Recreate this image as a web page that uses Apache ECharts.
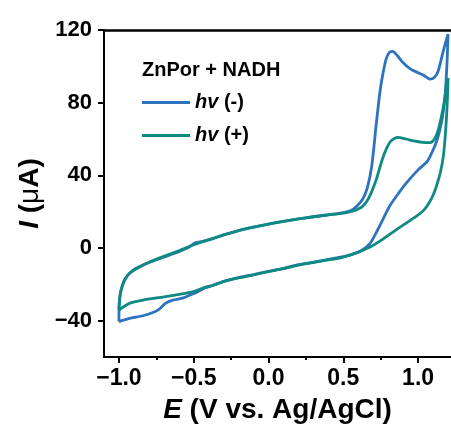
<!DOCTYPE html>
<html>
<head>
<meta charset="utf-8">
<script src="https://cdn.jsdelivr.net/npm/echarts@6/dist/echarts.min.js"></script>
<style>html,body{margin:0;padding:0;background:#fff}#c{width:451px;height:429px}</style>
</head>
<body>
<div id="c"></div>
<script>
// ---- data ----
const xTicks = [-1.0, -0.5, 0.0, 0.5, 1.0];
const xMinorTicks = [-0.75, -0.25, 0.25, 0.75];
const yTicks = [-40, 0, 40, 80, 120];
const seriesNames = ['hv (-)', 'hv (+)'];
const legendTitle = 'ZnPor + NADH';

// hv (-) : [E (V), I (uA)] — forward scan then reverse scan
const hvMinus = [
  [-1.0,-40.5],[-0.998,-31.5],[-0.985,-23],[-0.96,-17.5],[-0.93,-14],[-0.88,-11.3],[-0.8,-8],
  [-0.7,-5],[-0.6,-2],[-0.53,0.5],[-0.49,2.8],[-0.44,3.6],[-0.37,5.2],[-0.3,7.2],[-0.2,9.6],
  [-0.1,11.5],[0.0,13.2],[0.1,14.7],[0.2,16],[0.3,17.2],[0.4,18.3],[0.5,19.5],[0.55,20.6],
  [0.59,23],[0.63,27],[0.66,33],[0.69,45],[0.72,68],[0.745,86],[0.765,96],[0.788,104.5],
  [0.81,107.8],[0.83,108.2],[0.86,106],[0.9,102],[0.95,98.5],[1.0,96.5],[1.04,95],[1.08,93],
  [1.11,94],[1.135,97.6],[1.167,108],[1.2,117.7],
  [1.195,105],[1.187,92],[1.178,82],[1.165,73],[1.148,66],[1.125,59],[1.095,53],[1.06,47.5],
  [1.0,43],[0.922,35.8],[0.855,28.5],[0.81,23.1],[0.765,15.8],[0.721,8.6],[0.676,2.2],
  [0.62,-1.5],[0.55,-3.8],[0.5,-4.8],[0.4,-6.3],[0.3,-7.8],[0.2,-9.2],[0.1,-11.2],[0.0,-12.8],
  [-0.1,-14.6],[-0.2,-16.3],[-0.3,-18.3],[-0.37,-20.5],[-0.435,-22.4],[-0.5,-25.1],[-0.57,-27.5],
  [-0.64,-28.7],[-0.69,-30.5],[-0.725,-33.3],[-0.76,-35.1],[-0.84,-37.3],[-0.93,-38.7],[-1.0,-40.5]
];

// hv (+)
const hvPlus = [
  [-1.0,-34.2],[-0.999,-31],[-0.99,-24.5],[-0.96,-17],[-0.905,-12.2],[-0.815,-8.4],[-0.7,-4.6],
  [-0.6,-1.5],[-0.5,1.8],[-0.4,4.6],[-0.3,7.2],[-0.2,9.6],[-0.1,11.5],[0.0,13.2],[0.1,14.7],
  [0.2,16],[0.3,17.2],[0.4,18.2],[0.5,19.2],[0.56,20.3],[0.6,21.5],[0.63,23],[0.67,27.5],
  [0.72,37.6],[0.76,48.6],[0.79,55],[0.82,59],[0.866,60.9],[0.92,60],[0.97,59],[1.03,58.2],
  [1.08,58],[1.11,60],[1.135,65],[1.155,72],[1.17,78],[1.19,88.5],[1.2,93.6],
  [1.197,84],[1.19,72],[1.18,60],[1.168,50],[1.15,42],[1.13,36],[1.105,30],
  [1.075,25],[1.04,21],[0.989,17.6],
  [0.877,11.3],[0.765,4.9],[0.676,0.4],[0.564,-3.3],[0.475,-5.6],[0.4,-6.5],[0.3,-8],[0.2,-9.4],
  [0.1,-11.4],[0.0,-13],[-0.1,-14.8],[-0.2,-16.5],[-0.3,-18.5],[-0.37,-20.5],[-0.435,-21.9],
  [-0.5,-24],[-0.57,-25.1],[-0.7,-26.9],[-0.84,-28.7],[-0.93,-30.5],[-1.0,-34.2]
];

const colors = ['#2d73be', '#0e8a82'];
const FONT = '"Liberation Sans", Arial, sans-serif';
const minus = s => String(s).replace('-', '\u2212');

const chart = echarts.init(document.getElementById('c'), null, {renderer: 'canvas'});
const grid = {left: 104, top: 30, right: 0, bottom: 69};

chart.setOption({
  animation: false,
  backgroundColor: '#fff',
  title: {
    text: legendTitle, left: 137, top: 55,
    textStyle: {fontFamily: FONT, fontWeight: 'bold', fontSize: 20, color: '#000'}
  },
  legend: {
    orient: 'vertical', left: 137, top: 87,
    itemWidth: 48, itemHeight: 3, itemGap: 12, icon: 'rect',
    data: seriesNames,
    formatter: n => '{i|hv} ' + n.slice(3),
    textStyle: {
      fontFamily: FONT, fontWeight: 'bold', fontSize: 20, color: '#000', lineHeight: 21,
      rich: {i: {fontFamily: FONT, fontWeight: 'bold', fontStyle: 'italic', fontSize: 20, color: '#000'}}
    }
  },
  grid: grid,
  xAxis: [
    {
      type: 'value', min: -1.1, max: 1.22, position: 'bottom',
      axisLine: {show: true, onZero: false, lineStyle: {color: '#000', width: 2}},
      axisTick: {show: true, customValues: xTicks, length: 6, inside: false, lineStyle: {color: '#000', width: 2}},
      axisLabel: {show: true, customValues: xTicks, margin: 10, formatter: v => minus(v.toFixed(1)),
        fontFamily: FONT, fontWeight: 'bold', fontSize: 23, color: '#000'},
      splitLine: {show: false},
      name: '{i|E} (V vs. Ag/AgCl)', nameLocation: 'middle', nameGap: 39,
      nameTextStyle: {fontFamily: FONT, fontWeight: 'bold', fontSize: 28, color: '#000',
        rich: {i: {fontFamily: FONT, fontWeight: 'bold', fontStyle: 'italic', fontSize: 28, color: '#000'}}}
    },
    {
      type: 'value', min: -1.1, max: 1.22, position: 'bottom',
      axisLine: {show: false, onZero: false},
      axisTick: {show: true, customValues: xMinorTicks, length: 3, lineStyle: {color: '#000', width: 2}},
      axisLabel: {show: false}, splitLine: {show: false}
    },
    {
      type: 'value', min: -1.1, max: 1.22, position: 'top',
      axisLine: {show: true, onZero: false, lineStyle: {color: '#000', width: 2.5}},
      axisTick: {show: false}, axisLabel: {show: false}, splitLine: {show: false}
    }
  ],
  yAxis: {
    type: 'value', min: -60, max: 120, position: 'left',
    axisLine: {show: true, onZero: false, lineStyle: {color: '#000', width: 2}},
    axisTick: {show: true, customValues: yTicks, length: 6, lineStyle: {color: '#000', width: 2}},
    axisLabel: {show: true, customValues: yTicks, margin: 12, formatter: v => minus(v),
      fontFamily: FONT, fontWeight: 'bold', fontSize: 22, color: '#000'},
    splitLine: {show: false},
    name: '{i|I} ({m|\u03bc}A)', nameLocation: 'middle', nameRotate: 90, nameGap: 58,
    nameTextStyle: {fontFamily: FONT, fontWeight: 'bold', fontSize: 28, color: '#000',
      rich: {
        i: {fontFamily: FONT, fontWeight: 'bold', fontStyle: 'italic', fontSize: 28, color: '#000'},
        m: {fontFamily: FONT, fontWeight: 'normal', fontSize: 28, color: '#000'}
      }}
  },
  series: [
    {name: seriesNames[0], type: 'line', xAxisIndex: 0, data: hvMinus, showSymbol: false, smooth: 0.25,
     lineStyle: {color: colors[0], width: 2.8}, itemStyle: {color: colors[0]}, clip: false},
    {name: seriesNames[1], type: 'line', xAxisIndex: 0, data: hvPlus, showSymbol: false, smooth: 0.25,
     lineStyle: {color: colors[1], width: 2.8}, itemStyle: {color: colors[1]}, clip: false}
  ]
});
</script>
</body>
</html>
